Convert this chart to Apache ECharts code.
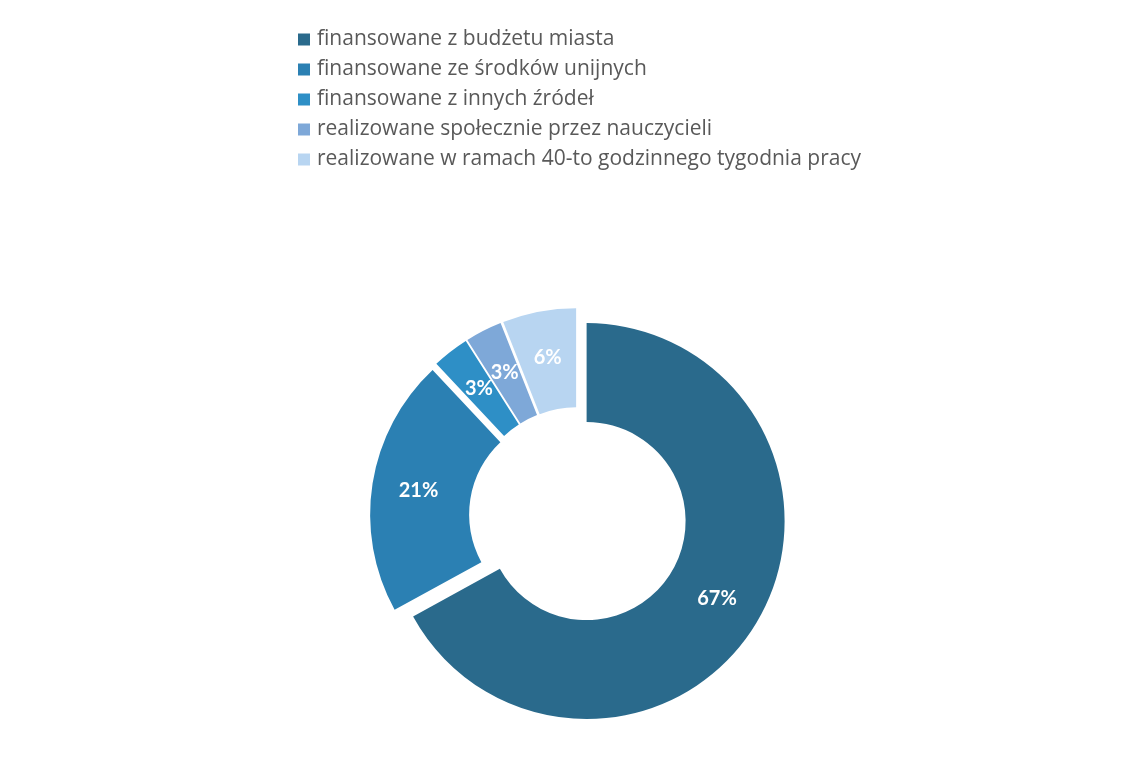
<!DOCTYPE html>
<html>
<head>
<meta charset="utf-8">
<script src="https://cdn.jsdelivr.net/npm/echarts@6/dist/echarts.min.js"></script>
<style>
html,body{margin:0;padding:0;background:#fff;}
#chart{width:1141px;height:784px;}
</style>
</head>
<body>
<div id="chart"></div>
<script>
const categories = [
  'finansowane z budżetu miasta',
  'finansowane ze środków unijnych',
  'finansowane z innych źródeł',
  'realizowane społecznie przez nauczycieli',
  'realizowane w ramach 40-to godzinnego tygodnia pracy'
];
const values = [67, 21, 3, 3, 6];
const colors = ['#2a6a8c', '#2b80b3', '#2e8fc6', '#7ea8d8', '#b8d5f1'];

const chart = echarts.init(document.getElementById('chart'), null, {renderer: 'canvas'});
chart.setOption({
  backgroundColor: '#ffffff',
  animation: false,
  color: colors,
  legend: {
    orient: 'vertical',
    left: 293,
    top: 24,
    itemWidth: 12,
    itemHeight: 12,
    itemGap: 9,
    icon: 'rect',
    selectedMode: false,
    textStyle: {
      fontFamily: 'Open Sans',
      fontSize: 21,
      color: '#595959',
      padding: [0, 0, 0, 2]
    },
    data: categories
  },
  series: [{
    type: 'pie',
    center: [578, 516],
    radius: [99, 198],
    startAngle: 90,
    clockwise: true,
    selectedMode: 'multiple',
    selectedOffset: 10,
    avoidLabelOverlap: false,
    label: {
      show: true,
      position: 'inside',
      formatter: '{d}%',
      color: '#ffffff',
      fontFamily: 'Lato',
      fontWeight: 'bold',
      fontSize: 20
    },
    labelLayout: {hideOverlap: false},
    labelLine: {show: false},
    emphasis: {disabled: true},
    itemStyle: {borderWidth: 0},
    data: categories.map((c, i) => ({name: c, value: values[i], selected: true}))
  }]
});
</script>
</body>
</html>
